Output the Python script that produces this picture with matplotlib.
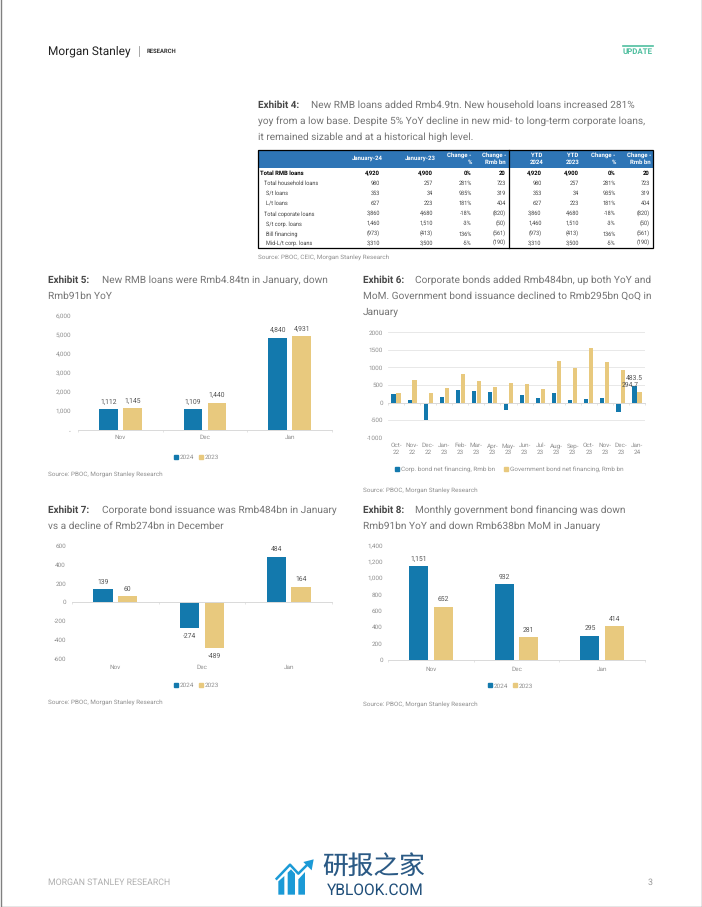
import matplotlib
matplotlib.use('Agg')
from matplotlib import pyplot as plt
from matplotlib.patches import Rectangle, Polygon
from matplotlib.lines import Line2D
import numpy as np

W, H = 702, 907
BLUE = '#1379ad'
SAND = '#e8c97e'
GREY = '#8f8f8f'
TITLE = '#747474'
AXIS = '#d9d9d9'
LOGO = '#1b9ad6'

plt.rcParams['font.family'] = ['Roboto', 'Noto Sans CJK SC', 'DejaVu Sans']
plt.rcParams['text.hinting'] = 'no_hinting'

months = ['Nov', 'Dec', 'Jan']
series_names = ['2024', '2023']

loans_2024 = [1112, 1109, 4840]
loans_2023 = [1145, 1440, 4931]
loans_ticks = [0, 1000, 2000, 3000, 4000, 5000, 6000]

corp_2024 = [139, -274, 484]
corp_2023 = [60, -489, 164]
corp_ticks = [-600, -400, -200, 0, 200, 400, 600]

gov_2024 = [1151, 932, 295]
gov_2023 = [652, 281, 414]
gov_ticks = [0, 200, 400, 600, 800, 1000, 1200, 1400]

bond_months = ['Oct-\n22', 'Nov-\n22', 'Dec-\n22', 'Jan-\n23', 'Feb-\n23', 'Mar-\n23', 'Apr-\n23', 'May-\n23',
               'Jun-\n23', 'Jul-\n23', 'Aug-\n23', 'Sep-\n23', 'Oct-\n23', 'Nov-\n23', 'Dec-\n23', 'Jan-\n24']
corp_net = [240, 60, -490, 160, 360, 340, 300, -200, 220, 125, 270, 70, 110, 139, -274, 483.5]
gov_net = [280, 652, 281, 414, 810, 600, 450, 550, 530, 400, 1180, 990, 1560, 1151, 932, 294.7]
bond_ticks = [-1000, -500, 0, 500, 1000, 1500, 2000]

table_header = ['January-24', 'January-23', 'Change -\n%', 'Change -\nRmb bn',
                'YTD\n2024', 'YTD\n2023', 'Change -\n%', 'Change -\nRmb bn']
table_labels = ['Total RMB loans', 'Total household loans', 'S/t loans', 'L/t loans',
                'Total coporate loans', 'S/t corp. loans', 'Bill financing', 'Mid-L/t corp. loans']
table_jan24 = ['4,920', '980', '353', '627', '3,860', '1,460', '(973)', '3,310']
table_jan23 = ['4,900', '257', '34', '223', '4,680', '1,510', '(413)', '3,500']
table_pct = ['0%', '281%', '935%', '181%', '-18%', '-3%', '136%', '-5%']
table_chg = ['20', '723', '319', '404', '(820)', '(50)', '(561)', '(190)']


def make_axes(left, right, top, bottom):
    return fig.add_axes([left / W, 1 - bottom / H, (right - left) / W, (bottom - top) / H])


def group_chart(box, a, b, ticks, pad, ypad, label_gap, legend_xy):
    ax = make_axes(*box)
    x = np.arange(len(months))
    bar_w = 0.222
    step = 0.285
    bars_a = ax.bar(x - step / 2, a, bar_w, color=BLUE)
    bars_b = ax.bar(x + step / 2, b, bar_w, color=SAND)
    ax.set_xlim(-0.5, len(months) - 0.5)
    ax.set_ylim(ticks[0], ticks[-1])
    for bars in (bars_a, bars_b):
        for bar in bars:
            v = bar.get_height()
            ax.annotate(format(int(v), ','), (bar.get_x() + bar_w / 2, v), xytext=(0, label_gap if v >= 0 else -label_gap - 0.5),
                        textcoords='offset points', ha='center', va='center', fontsize=4.9, color='#555555')
    style_axis(ax, x, months, ticks, pad, ypad)
    add_legend(legend_xy, series_names)
    return ax


def style_axis(ax, x, labels, ticks, pad, ypad):
    for s in ('top', 'right', 'left'):
        ax.spines[s].set_visible(False)
    ax.spines['bottom'].set_position(('data', 0))
    ax.spines['bottom'].set_color(AXIS)
    ax.spines['bottom'].set_linewidth(0.7)
    ax.set_xticks(x)
    ax.set_xticklabels(labels)
    ax.set_xticks(np.arange(len(labels) + 1) - 0.5, minor=True)
    ax.tick_params(axis='x', which='major', length=0, pad=pad, labelsize=4.6, labelcolor=GREY)
    ax.tick_params(axis='x', which='minor', length=1.5, width=0.5, color=AXIS)
    ax.set_yticks(ticks)
    ax.set_yticklabels(['-' if t == 0 and ticks[-1] == 6000 else format(t, ',') for t in ticks])
    ax.tick_params(axis='y', length=0, pad=ypad, labelsize=4.6, labelcolor=GREY)
    ax.patch.set_alpha(0)


def add_legend(xy, names):
    handles = [Line2D([], [], marker='s', ls='', ms=2.8, color=c) for c in (BLUE, SAND)]
    fig.legend(handles, names, loc='center', bbox_to_anchor=(xy[0] / W, 1 - xy[1] / H), ncol=2, frameon=False,
               fontsize=4.6, labelcolor=GREY, handletextpad=0.1, columnspacing=0.5, borderpad=0, handlelength=1)


def heading(x, y, name, lines, indent):
    page.text(x, y, name, fontsize=7.1, fontweight='bold', color='#484848', va='center')
    page.text(x + indent, y, lines[0], fontsize=7.33, color=TITLE, va='center')
    for i, line in enumerate(lines[1:]):
        page.text(x, y + 16 * (i + 1), line, fontsize=7.33, color=TITLE, va='center')


def source(x, y, text):
    page.text(x, y, text, fontsize=4.55, color=GREY, va='center')


def logo_shape(points):
    # zoomed logo points back to page pixels
    return [[265 + px / 3, 852 + py / 3] for px, py in points]


fig = plt.figure(figsize=(W / 100, H / 100), dpi=100, facecolor='white')

# whole page overlay, in pixels
page = fig.add_axes([0, 0, 1, 1])
page.set_xlim(0, W)
page.set_ylim(H, 0)
page.axis('off')
page.add_patch(Rectangle((0.5, -2), W - 1, H + 1.5, fill=False, ec='#808080', lw=1))

# header and footer
page.text(48, 51, 'Morgan Stanley', fontsize=8.6, color='#222222', va='center')
page.plot([139, 139], [46, 56], color='#999999', lw=0.6)
page.text(147, 51, 'RESEARCH', fontsize=4.2, color='#333333', va='center', fontweight='bold')
page.plot([623, 653], [46, 46], color='#4fbf9f', lw=1.2)
page.text(638, 52, 'UPDATE', fontsize=5.7, color='#4fbf9f', va='center', ha='center', fontweight='bold')
page.text(48, 882.5, 'MORGAN STANLEY RESEARCH', fontsize=6.35, color='#b0b0b0', va='center')
page.text(650, 882.5, '3', fontsize=6.4, color='#999999', va='center', ha='center')

# watermark
page.add_patch(Polygon(logo_shape([(40, 128), (58, 128), (58, 72), (40, 88)]), color=LOGO, lw=0))
page.add_patch(Polygon(logo_shape([(68, 128), (90, 128), (90, 65), (78, 52), (68, 62)]), color=LOGO, lw=0))
page.add_patch(Polygon(logo_shape([(100, 128), (120, 128), (120, 60), (100, 82)]), color=LOGO, lw=0))
page.plot(*zip(*logo_shape([(35, 80), (75, 38), (100, 65), (130, 35)])), color=LOGO, lw=1.8)
page.add_patch(Polygon(logo_shape([(146, 22), (115, 30), (140, 55)]), color=LOGO, lw=0))
page.text(373.5, 867.5, '研报之家', fontsize=18.5, color='#2b5a85', ha='center', va='center')
page.text(375, 890, 'YBLOOK.COM', fontsize=11.2, color='#1f4e79', ha='center', va='center')

# exhibit 4
heading(258, 105, 'Exhibit 4:', ['New RMB loans added Rmb4.9tn. New household loans increased 281%',
                                 'yoy from a low base. Despite 5% YoY decline in new mid- to long-term corporate loans,',
                                 'it remained sizable and at a historical high level.'], 53)
source(258, 257.5, 'Source: PBOC, CEIC, Morgan Stanley Research')

page.add_patch(Rectangle((258, 149.5), 394.5, 18, color='#2e75b6', lw=0))
head_x = [367, 420.7, 471.7, 506, 537, 573, 615.7, 651]
head_ha = ['center', 'center', 'right', 'right', 'center', 'center', 'right', 'right']
for hx, ha, t in zip(head_x, head_ha, table_header):
    page.text(hx, 158.5, t, fontsize=4.3, color='white', fontweight='bold', ha=ha, va='center', linespacing=1.25)

col_x = [380, 433, 471.7, 506, 541.7, 579, 615.7, 650]
label_x = [260, 263.5, 266.5, 266.5, 263.5, 266.5, 266.5, 266.5]
row_y = [173.3, 183.3, 193.3, 203.3, 213.7, 223.7, 234, 243.3]
cols = [table_jan24, table_jan23, table_pct, table_chg, table_jan24, table_jan23, table_pct, table_chg]
for i, lab in enumerate(table_labels):
    weight = 'bold' if i == 0 else 'normal'
    colour = 'black' if i == 0 else '#444444'
    size = 4.2 if i == 0 else 4.0
    page.text(label_x[i], row_y[i], lab, fontsize=size, fontweight=weight, color=colour, va='center')
    for cx, col in zip(col_x, cols):
        page.text(cx, row_y[i], col[i], fontsize=size, fontweight=weight, color=colour, va='center', ha='right')
page.add_patch(Rectangle((258, 149.5), 394.5, 98, fill=False, ec='black', lw=0.9))
page.plot([508.7, 508.7], [149.5, 247.5], color='black', lw=0.9)

# exhibit 5
heading(48, 280, 'Exhibit 5:', ['New RMB loans were Rmb4.84tn in January, down', 'Rmb91bn YoY'], 54)
group_chart((78, 332, 315.7, 430), loans_2024, loans_2023, loans_ticks, 3.5, 5, 5.2, (196, 457.7))
source(48, 474, 'Source: PBOC, Morgan Stanley Research')

# exhibit 6
heading(363, 280, 'Exhibit 6:', ['Corporate bonds added Rmb484bn, up both YoY and',
                                 'MoM. Government bond issuance declined to Rmb295bn QoQ in', 'January'], 52)
ax6 = make_axes(388, 645, 332.3, 437.7)
x6 = np.arange(len(bond_months))
ax6.bar(x6 - 0.155, corp_net, 0.26, color=BLUE)
ax6.bar(x6 + 0.155, gov_net, 0.26, color=SAND)
ax6.set_xlim(-0.5, len(bond_months) - 0.5)
ax6.set_ylim(bond_ticks[0], bond_ticks[-1])
ax6.set_axisbelow(True)
ax6.grid(axis='y', color='#e4e4e4', lw=0.6)
style_axis(ax6, x6, bond_months, bond_ticks, 37, 3.6)
ax6.set_yticklabels([str(t) for t in bond_ticks])
for lab in ax6.get_xticklabels():
    lab.set_verticalalignment('baseline')
ax6.annotate(format(corp_net[-1], '.1f'), (x6[-1] - 0.155, corp_net[-1]), xytext=(0, 5.5), textcoords='offset points',
             ha='center', va='center', fontsize=4.9, color='#555555')
ax6.annotate(format(gov_net[-1], '.1f'), (x6[-1] + 0.155, gov_net[-1]), xytext=(-6.8, 5.2), textcoords='offset points',
             ha='center', va='center', fontsize=4.9, color='#555555')
fig.legend([Line2D([], [], marker='s', ls='', ms=2.8, color=c) for c in (BLUE, SAND)],
           ['Corp. bond net financing, Rmb bn', 'Government bond net financing, Rmb bn'], loc='center',
           bbox_to_anchor=(509 / W, 1 - 469.3 / H), ncol=2, frameon=False, fontsize=4.6, labelcolor=GREY,
           handletextpad=0.1, columnspacing=1.2, borderpad=0, handlelength=1)
source(363, 490, 'Source: PBOC, Morgan Stanley Research')

# exhibit 7
heading(48, 510, 'Exhibit 7:', ['Corporate bond issuance was Rmb484bn in January',
                                'vs a decline of Rmb274bn in December'], 54)
group_chart((72, 332, 545.7, 658.3), corp_2024, corp_2023, corp_ticks, 45, 4.3, 5.2, (196, 685.7))
source(48, 702, 'Source: PBOC, Morgan Stanley Research')

# exhibit 8
heading(363, 510, 'Exhibit 8:', ['Monthly government bond financing was down',
                                 'Rmb91bn YoY and down Rmb638bn MoM in January'], 52)
group_chart((388, 645, 545.7, 659.7), gov_2024, gov_2023, gov_ticks, 4.5, 3.8, 5.2, (510, 686))
source(363, 703.7, 'Source: PBOC, Morgan Stanley Research')

fig.savefig('out.png', dpi=100)
